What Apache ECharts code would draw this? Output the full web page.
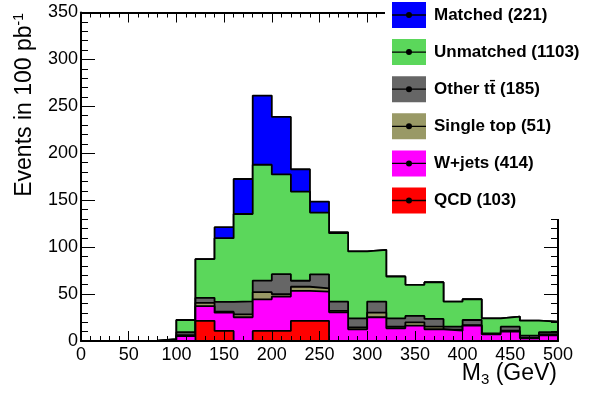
<!DOCTYPE html>
<html>
<head>
<meta charset="utf-8">
<script src="https://cdn.jsdelivr.net/npm/echarts@6/dist/echarts.min.js"></script>
<style>
  html, body { margin: 0; padding: 0; background: #fff; }
  #chart { width: 598px; height: 396px; }
</style>
</head>
<body>
<div id="chart"></div>
<script>
// M3 distribution, 20 GeV bins from 0 to 500 GeV
const binEdges = [0, 20, 40, 60, 80, 100, 120, 140, 160, 180, 200, 220, 240, 260, 280, 300, 320, 340, 360, 380, 400, 420, 440, 460, 480, 500];

// Contributions per bin (bottom of the stack to top)
const qcd       = [0, 0, 0, 0, 0, 0, 21.5, 10.7, 0, 10.7, 10.7, 21.5, 21.5, 0, 0, 0, 0, 0, 0, 0, 0, 0, 0, 0, 0];
const wJets     = [0, 0, 0, 0, 0.5, 5.3, 15.7, 19.5, 25.3, 33.7, 36.6, 32, 31, 30.6, 12.4, 25.3, 13.5, 16.4, 12.5, 11, 16.4, 7.1, 10, 2.8, 6];
const singleTop = [0, 0, 0, 0, 0, 1, 3.5, 1, 3, 7.6, 2.5, 4.3, 3.5, 1.5, 2, 5, 1.7, 3.5, 2.8, 1, 0.6, 0.4, 1, 0.5, 1];
const otherTT   = [0, 0, 0, 0, 0, 3, 5.3, 10.4, 14, 12.4, 21.4, 6.4, 15, 9.9, 9.8, 11.7, 9, 6.8, 8.2, 3.3, 5.4, 0.7, 4.3, 2.4, 2.3];
const unmatched = [0, 0, 0, 0.5, 1.5, 13.1, 41.3, 68, 93, 123.4, 106.3, 95, 65.8, 72.9, 71.2, 55.1, 44.5, 33.1, 39.1, 26.7, 22.1, 16, 10.7, 16, 11.3];
const matched   = [0, 0, 0, 0, 0, 0, 0, 11.7, 37.3, 73.7, 61.2, 23.8, 11.7, 1.1, 0, 0, 0, 0, 0, 0, 0, 0, 0, 0, 0];

const legendNames = ['Matched (221)', 'Unmatched (1103)', 'Other tt\u0304 (185)', 'Single top (51)', 'W+jets (414)', 'QCD (103)'];
const xTicks = [0, 50, 100, 150, 200, 250, 300, 350, 400, 450, 500];
const yTicks = [0, 50, 100, 150, 200, 250, 300, 350];

// Layers in stacking order, bottom first
const layers = [
  { name: legendNames[5], values: qcd,       color: '#ff0000' },
  { name: legendNames[4], values: wJets,     color: '#ff00ff' },
  { name: legendNames[3], values: singleTop, color: '#999966' },
  { name: legendNames[2], values: otherTT,   color: '#666666' },
  { name: legendNames[1], values: unmatched, color: '#5bd75b' },
  { name: legendNames[0], values: matched,   color: '#0000ff' }
];

// Running totals: the top edge of each layer in the stack
let running = binEdges.slice(1).map(() => 0);
layers.forEach(l => {
  running = running.map((s, i) => s + l.values[i]);
  l.top = running.slice();
});

// Step points: each bin's value starts at its left edge, the last value is repeated at the right edge
function stepPoints(values) {
  const pts = values.map((v, i) => [binEdges[i], v]);
  pts.push([binEdges[binEdges.length - 1], values[values.length - 1]]);
  return pts;
}

const FONT = '"Liberation Sans", Arial, Helvetica, sans-serif';

// Highest layer is drawn first; each lower layer is filled from zero over it
const series = layers.slice().reverse().map((l, k) => ({
  type: 'line',
  name: l.name,
  step: 'end',
  data: stepPoints(l.top),
  showSymbol: false,
  symbol: 'none',
  lineStyle: { color: '#000', width: 1.8 },
  itemStyle: { color: l.color },
  areaStyle: { color: l.color, opacity: 1, origin: 'start' },
  emphasis: { disabled: true },
  z: 2 + k
}));

const legendOrder = legendNames.map(n => layers.find(l => l.name === n));

const LEG_LEFT = 392, LEG_TOP = 2, LEG_W = 34, LEG_H = 26, LEG_GAP = 11.1;
const legendMarks = [];
legendOrder.forEach((l, i) => {
  const cy = LEG_TOP + LEG_H / 2 + i * (LEG_H + LEG_GAP);
  legendMarks.push({
    type: 'line', z: 40,
    shape: { x1: LEG_LEFT, y1: cy, x2: LEG_LEFT + LEG_W, y2: cy },
    style: { stroke: '#000', lineWidth: 1.3 }
  });
  legendMarks.push({
    type: 'circle', z: 40,
    shape: { cx: LEG_LEFT + LEG_W / 2, cy: cy, r: 3 },
    style: { fill: '#000' }
  });
});

const axisCommon = {
  type: 'value',
  splitLine: { show: false },
  axisLine: { show: true, onZero: false, lineStyle: { color: '#000', width: 2 } },
  z: 15
};

const option = {
  animation: false,
  backgroundColor: '#fff',
  grid: { left: 81, right: 40, top: 12.5, bottom: 55, containLabel: false },
  xAxis: [
    Object.assign({}, axisCommon, {
      position: 'bottom', min: 0, max: 500, interval: 50,
      axisTick: { show: true, inside: true, length: 10, lineStyle: { color: '#000', width: 1 } },
      minorTick: { show: true, splitNumber: 5, length: 5, lineStyle: { color: '#000', width: 1 } },
      axisLabel: {
        margin: 5, color: '#000', fontSize: 18, fontFamily: FONT,
        formatter: v => (xTicks.indexOf(v) >= 0 ? String(v) : '')
      }
    }),
    Object.assign({}, axisCommon, {
      position: 'top', min: 0, max: 500, interval: 50,
      axisTick: { show: true, inside: true, length: 10, lineStyle: { color: '#000', width: 1 } },
      minorTick: { show: true, splitNumber: 5, length: 5, lineStyle: { color: '#000', width: 1 } },
      axisLabel: { show: false }
    })
  ],
  yAxis: [
    Object.assign({}, axisCommon, {
      position: 'left', min: 0, max: 350, interval: 50,
      axisTick: { show: true, inside: true, length: 14, lineStyle: { color: '#000', width: 1 } },
      minorTick: { show: true, splitNumber: 5, length: 7, lineStyle: { color: '#000', width: 1 } },
      axisLabel: {
        margin: 3, color: '#000', fontSize: 18, fontFamily: FONT,
        formatter: v => (yTicks.indexOf(v) >= 0 ? String(v) : '')
      }
    }),
    Object.assign({}, axisCommon, {
      position: 'right', min: 0, max: 350, interval: 50,
      axisTick: { show: true, inside: true, length: 14, lineStyle: { color: '#000', width: 1 } },
      minorTick: { show: true, splitNumber: 5, length: 7, lineStyle: { color: '#000', width: 1 } },
      axisLabel: { show: false }
    })
  ],
  legend: {
    orient: 'vertical',
    left: LEG_LEFT, top: LEG_TOP,
    padding: 0,
    itemWidth: LEG_W, itemHeight: LEG_H, itemGap: LEG_GAP,
    icon: 'rect',
    selectedMode: false,
    z: 35,
    data: legendOrder.map(l => ({
      name: l.name,
      itemStyle: { color: l.color, borderWidth: 0 }
    })),
    textStyle: {
      color: '#000', fontSize: 17, fontWeight: 'bold', fontFamily: FONT,
      padding: [0, 0, 0, 3]
    }
  },
  graphic: [
    // white legend box drawn over the frame
    { type: 'rect', z: 30, shape: { x: 385, y: 0, width: 213, height: 219 }, style: { fill: '#fff' } },
    ...legendMarks,
    {
      type: 'text', z: 40,
      x: 25, y: 13, rotation: Math.PI / 2,
      style: {
        text: 'Events in 100 pb{sup|-1}',
        font: '23px ' + FONT,
        fill: '#000',
        textAlign: 'right',
        verticalAlign: 'middle',
        rich: {
          sup: { fontSize: 14, fontFamily: FONT, fill: '#000', verticalAlign: 'top', padding: [0, 0, 11, 0] }
        }
      }
    },
    {
      type: 'text', z: 40,
      x: 557, y: 374,
      style: {
        text: 'M{sub|3} (GeV)',
        font: '23px ' + FONT,
        fill: '#000',
        textAlign: 'right',
        verticalAlign: 'middle',
        rich: {
          sub: { fontSize: 15, fontFamily: FONT, fill: '#000', verticalAlign: 'bottom', padding: [12, 0, 0, 0] }
        }
      }
    }
  ],
  series: series
};

const chart = echarts.init(document.getElementById('chart'), null, { renderer: 'canvas' });
chart.setOption(option);
</script>
</body>
</html>
